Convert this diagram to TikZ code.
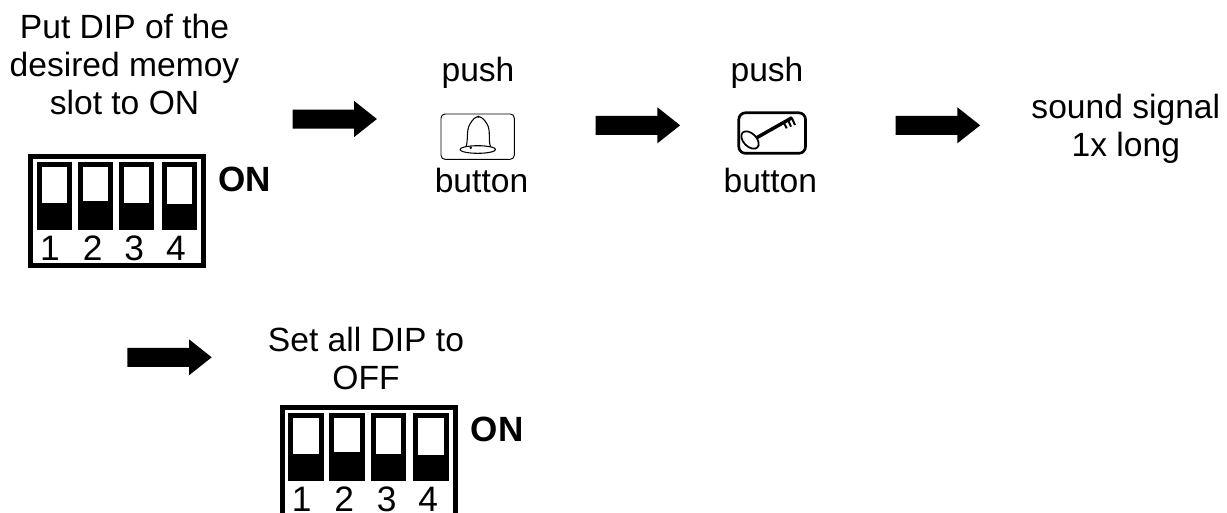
\documentclass[tikz,border=0pt]{standalone}
\usepackage{fontspec}
\setmainfont{Liberation Sans}
\usetikzlibrary{shapes.geometric}
\tikzset{
  txt/.style={inner sep=0pt,anchor=base,font=\fontsize{25.2pt}{28pt}\selectfont},
  num/.style={inner sep=0pt,anchor=base,font=\fontsize{26.5pt}{28pt}\selectfont},
  onlabel/.style={inner sep=0pt,anchor=base west,font=\fontsize{26.3pt}{28pt}\selectfont\bfseries},
  arrowshape/.style={fill=black,draw=none},
  dipframe/.style={draw=black,line width=3.6pt,fill=white},
  swbody/.style={fill=black,draw=none},
  swwin/.style={fill=white,draw=none},
  iconbox/.style={draw=black,rounded corners=3pt,fill=white},
  iconline/.style={draw=black,line width=0.8pt,line join=round}
}
\newcommand{\bigarrow}[2]{% x of tail, y of axis
  \fill[arrowshape] (#1,#2-9.5) -- ++(61.7,0) -- ++(0,-8.5) -- (#1+84.4,#2) -- (#1+61.7,#2+18) -- ++(0,-8.5) -- (#1,#2+9.5) -- cycle;}
\newcommand{\dipsw}[5]{% left, top, right, bottom of body; window bottom
  \fill[swbody] (#1,#2) rectangle (#3,#4);
  \fill[swwin] (#1+4.8,#2+4.6) rectangle (#3-4.8,#5);}
\begin{document}
\begin{tikzpicture}[x=0.75pt,y=-0.75pt]
\useasboundingbox (0,0) rectangle (1227,512);
\clip (0,0) rectangle (1227,512);
% first text
\node[txt] (t1) at (124.5,38.5) {Put DIP of the};
\node[txt] (t2) at (124.5,76) {desired memoy};
\node[txt] (t3) at (124.5,114) {slot to ON};
% first DIP
\draw[dipframe] (30.8,156.5) rectangle (203.2,265.5);
\dipsw{36.7}{162.3}{71.7}{230}{202.7}
\dipsw{77.7}{162.3}{112.7}{230}{201.3}
\dipsw{119}{162.3}{154}{230}{203.3}
\dipsw{161.7}{162.3}{196.7}{230}{204}
\node[num] (a1) at (50,260) {1};
\node[num] (a2) at (92.7,260) {2};
\node[num] (a3) at (134.3,260) {3};
\node[num] (a4) at (176,260) {4};
\node[onlabel] (on1) at (218,191.7) {ON};
% arrows
\bigarrow{292.5}{119}
\bigarrow{595.7}{125.3}
\bigarrow{895.7}{125.3}
\bigarrow{127.3}{357.3}
% bell
\node[txt] (p1) at (478,81.7) {push};
\draw[iconbox,line width=0.7pt] (441,114) rectangle (514.3,159.3);
\draw[iconline] (466,146.7) .. controls (468.5,140) and (466,130) .. (470,124) .. controls (473,118.5) and (476,116.7) .. (478.3,116.7) .. controls (481,116.7) and (484,118.5) .. (487,124) .. controls (491,130) and (488,140) .. (490.5,146.7);
\draw[iconline] (477.8,149.5) ellipse (17.8 and 3.8);
\fill (470.7,147.7) circle (1.4);
\fill (478.3,116.7) circle (1.2);
\node[txt] (b1) at (481.5,192.7) {button};
% key
\node[txt] (p2) at (767,81.7) {push};
\draw[iconbox,line width=2pt,rounded corners=5pt] (738.8,112.8) rectangle (805.5,153.3);
\draw[black,line width=1.3pt,rotate around={-45:(750,140)}] (750,140) ellipse (10.5 and 6.5);
\draw[black,line width=2.6pt] (756.7,137.7) -- (792,117.7);
\draw[black,line width=1.5pt] (783.3,121.7) -- (786.7,128.3) (787.7,119.3) -- (791,126.7) (791.7,117.7) -- (795,125);
\node[txt] (b2) at (770.3,192.7) {button};
% sound
\node[txt] (s1) at (1125.8,118.3) {sound signal};
\node[txt] (s2) at (1125.8,156) {1x long};
% second text
\node[txt] (o1) at (366,351.7) {Set all DIP to};
\node[txt] (o2) at (366,389.3) {OFF};
% second DIP
\draw[dipframe] (282.5,407.5) rectangle (455.5,530);
\dipsw{288.3}{413.3}{324}{481.2}{454.3}
\dipsw{329.3}{413.3}{365}{481.2}{452.3}
\dipsw{370.7}{413.3}{406}{481.2}{454.3}
\dipsw{413.3}{413.3}{448.7}{481.2}{455}
\node[num] (c1) at (301.7,511) {1};
\node[num] (c2) at (344.3,511) {2};
\node[num] (c3) at (386.7,511) {3};
\node[num] (c4) at (428.3,511) {4};
\node[onlabel] (on2) at (470.5,441.7) {ON};
\end{tikzpicture}
\end{document}
